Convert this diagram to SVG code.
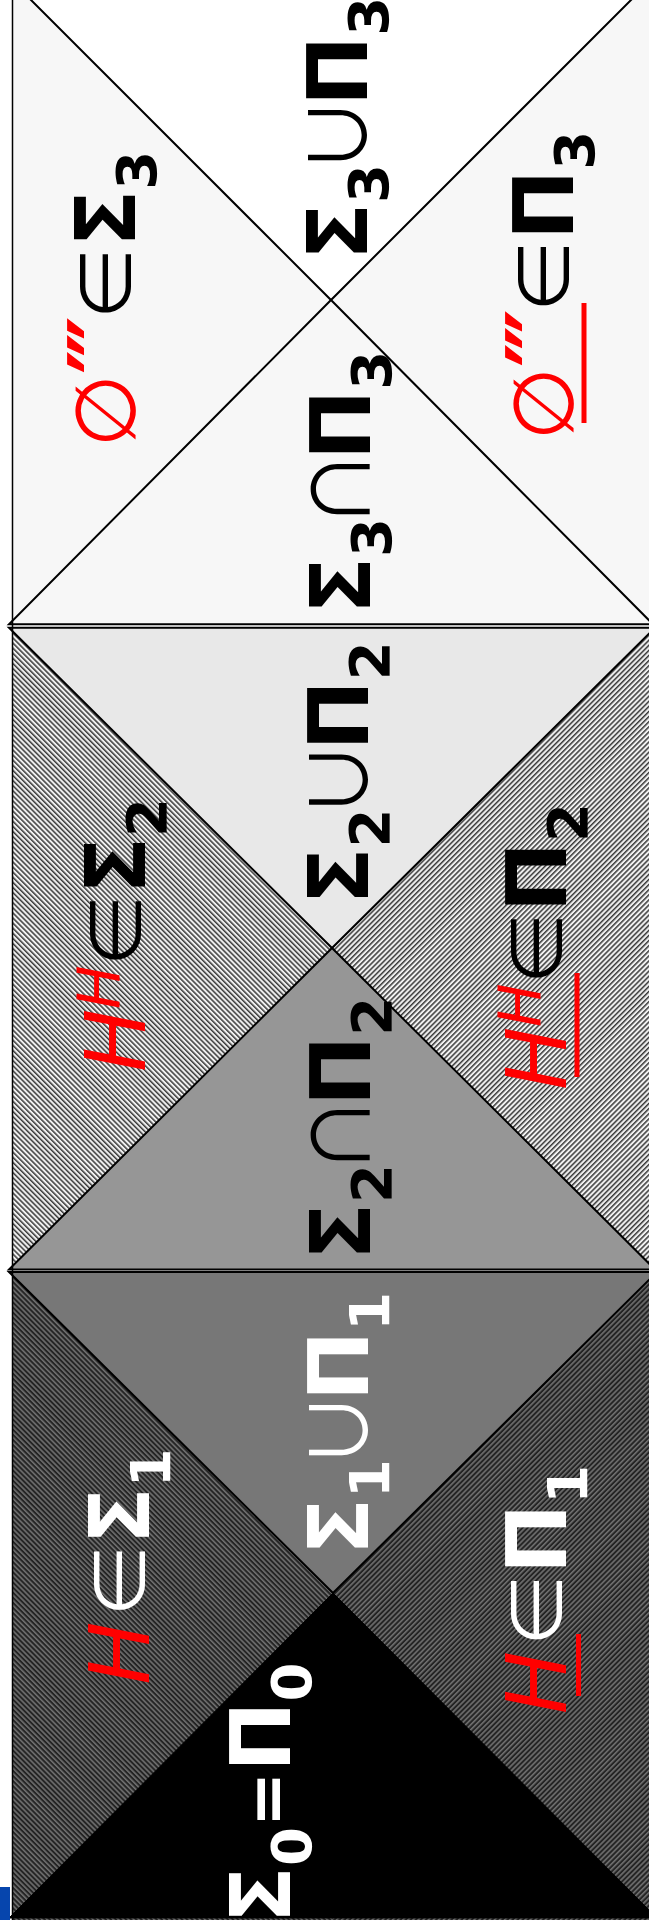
<svg xmlns="http://www.w3.org/2000/svg" width="649" height="1932" viewBox="0 0 649 1932">
<defs>
<pattern id="hL2" width="3.6" height="4" patternUnits="userSpaceOnUse" patternTransform="rotate(-45)"><rect width="3.6" height="4" fill="#f0f0f0"/><rect width="1.5" height="4" fill="#3a3a3a"/></pattern>
<pattern id="hR2" width="3.6" height="4" patternUnits="userSpaceOnUse" patternTransform="rotate(45)"><rect width="3.6" height="4" fill="#f0f0f0"/><rect width="1.5" height="4" fill="#3a3a3a"/></pattern>
<pattern id="hL1" width="3.6" height="4" patternUnits="userSpaceOnUse" patternTransform="rotate(-45)"><rect width="3.6" height="4" fill="#242424"/><rect width="1.6" height="4" fill="#707070"/></pattern>
<pattern id="hR1" width="3.6" height="4" patternUnits="userSpaceOnUse" patternTransform="rotate(45)"><rect width="3.6" height="4" fill="#242424"/><rect width="1.6" height="4" fill="#707070"/></pattern>
<style>
text{font-family:"DejaVu Sans",sans-serif;text-anchor:middle}
.b{font-weight:bold;font-size:84px}
.s{font-weight:bold;font-size:56px}
.o{font-family:"Noto Sans CJK JP","DejaVu Sans",sans-serif;font-weight:normal;font-size:78px}
.eq{font-weight:bold;font-size:66px}
.i{font-style:italic;font-weight:normal;font-size:84px;fill:#ff0000}
.si{font-style:italic;font-weight:normal;font-size:58px;fill:#ff0000}
.e{font-weight:normal;font-size:84px;fill:#ff0000}
.p{font-weight:bold;font-size:92px;fill:#ff0000}
.k{fill:#000}
.w{fill:#fff}
.edge{stroke:#000;stroke-width:2;stroke-linejoin:miter}
.ul{stroke:#ff0000;stroke-width:5}
</style>
</defs>
<rect width="649" height="1932" fill="#fff"/>
<g id="level3">
<rect id="sigma3" x="12" y="-22" width="320" height="646" fill="#f7f7f7"/>
<rect id="pi3" x="331" y="-22" width="330" height="646" fill="#f7f7f7"/>
<polygon id="union3" class="edge" points="9,-22 653,-22 331,300" fill="#fff"/>
<polygon id="delta3" class="edge" points="9,624.3 653,624.3 331,300" fill="#f7f7f7"/>
</g>
<g id="level2">
<rect id="sigma2" x="12" y="627.7" width="321" height="642" fill="url(#hL2)"/>
<rect id="pi2" x="332" y="627.7" width="330" height="642" fill="url(#hR2)"/>
<polygon id="union2" class="edge" points="9,627.7 655,627.7 332,948" fill="#e8e8e8"/>
<polygon id="delta2" class="edge" points="9,1269.5 655,1269.5 332,948" fill="#969696"/>
</g>
<g id="level1">
<rect id="sigma1" x="12" y="1272" width="322" height="648" fill="url(#hL1)"/>
<rect id="pi1" x="333" y="1272" width="330" height="648" fill="url(#hR1)"/>
<polygon id="union1" class="edge" points="9,1272 657,1272 333,1593" fill="#777777"/>
<polygon id="delta0" points="9,1918 657,1918 333,1593" fill="#000" stroke="#000" stroke-width="1"/>
</g>
<g id="connectors">
<line x1="12.5" y1="0" x2="12.5" y2="1920" stroke="#000" stroke-width="1.5"/>
<line class="ul" x1="584" y1="303" x2="584" y2="423"/>
<line class="ul" x1="577" y1="973" x2="577" y2="1077"/>
<line class="ul" x1="578.5" y1="1634" x2="578.5" y2="1696"/>
</g>
<rect id="corner" x="0" y="1887" width="10" height="33" fill="#0645ad"/>
<g id="labels">
<text transform="translate(367,128.5) rotate(-90)" class="k"><tspan class="b">Σ</tspan><tspan class="s" dy="21">3</tspan><tspan class="o" dy="-21" dx="-10">∪</tspan><tspan class="b" dx="-10">Π</tspan><tspan class="s" dy="21">3</tspan></text>
<text transform="translate(135,299) rotate(-90)" class="k"><tspan class="e">∅</tspan><tspan class="p">‴</tspan><tspan class="o" dx="-6">∈</tspan><tspan class="b" dx="-3">Σ</tspan><tspan class="s" dy="21">3</tspan></text>
<text transform="translate(573,285.5) rotate(-90)" class="k"><tspan class="e">∅</tspan><tspan class="p">‴</tspan><tspan class="o" dx="-6">∈</tspan><tspan class="b" dx="-3">Π</tspan><tspan class="s" dy="21">3</tspan></text>
<text transform="translate(370,482.5) rotate(-90)" class="k"><tspan class="b">Σ</tspan><tspan class="s" dy="21">3</tspan><tspan class="o" dy="-21" dx="-10">∩</tspan><tspan class="b" dx="-10">Π</tspan><tspan class="s" dy="21">3</tspan></text>
<text transform="translate(368,773) rotate(-90)" class="k"><tspan class="b">Σ</tspan><tspan class="s" dy="21">2</tspan><tspan class="o" dy="-21" dx="-10">∪</tspan><tspan class="b" dx="-10">Π</tspan><tspan class="s" dy="21">2</tspan></text>
<text transform="translate(145,935) rotate(-90)" class="k"><tspan class="i">H</tspan><tspan class="si" dy="-26">H</tspan><tspan class="o" dy="26" dx="-4">∈</tspan><tspan class="b" dx="-3">Σ</tspan><tspan class="s" dy="21">2</tspan></text>
<text transform="translate(566,946.5) rotate(-90)" class="k"><tspan class="i">H</tspan><tspan class="si" dy="-26">H</tspan><tspan class="o" dy="26" dx="-4">∈</tspan><tspan class="b" dx="-3">Π</tspan><tspan class="s" dy="21">2</tspan></text>
<text transform="translate(370,1128.5) rotate(-90)" class="k"><tspan class="b">Σ</tspan><tspan class="s" dy="21">2</tspan><tspan class="o" dy="-21" dx="-10">∩</tspan><tspan class="b" dx="-10">Π</tspan><tspan class="s" dy="21">2</tspan></text>
<text transform="translate(368,1423.5) rotate(-90)" class="w"><tspan class="b">Σ</tspan><tspan class="s" dy="21">1</tspan><tspan class="o" dy="-21" dx="-10">∪</tspan><tspan class="b" dx="-10">Π</tspan><tspan class="s" dy="21">1</tspan></text>
<text transform="translate(149,1566.5) rotate(-90)" class="w"><tspan class="i">H</tspan><tspan class="o" dx="2">∈</tspan><tspan class="b" dx="-3">Σ</tspan><tspan class="s" dy="21">1</tspan></text>
<text transform="translate(566,1589.5) rotate(-90)" class="w"><tspan class="i">H</tspan><tspan class="o" dx="2">∈</tspan><tspan class="b" dx="-3">Π</tspan><tspan class="s" dy="21">1</tspan></text>
<text transform="translate(290,1793) rotate(-90)" class="w"><tspan class="b">Σ</tspan><tspan class="s" dy="21">0</tspan><tspan class="eq" dy="-21">=</tspan><tspan class="b">Π</tspan><tspan class="s" dy="21">0</tspan></text>
</g>
</svg>
